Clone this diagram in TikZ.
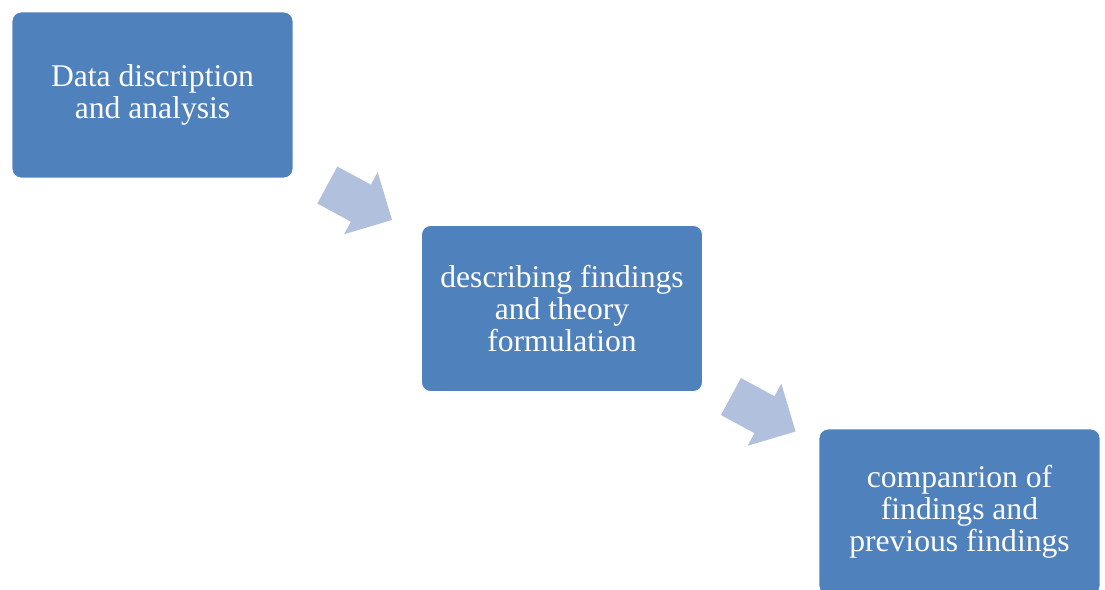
\documentclass[tikz,border=0pt]{standalone}
\usepackage{fontspec}
\setmainfont{Liberation Serif}
\usetikzlibrary{shapes.arrows}
\definecolor{boxblue}{HTML}{4F81BD}
\definecolor{arrowblue}{HTML}{B1C1DD}
\tikzset{
	stagebox/.style={rectangle,rounded corners=0.18cm,fill=boxblue,draw=white,line width=0.5pt,
		minimum width=5.62cm,minimum height=3.32cm,align=center,text=white,
		font=\fontsize{18}{18.2}\selectfont},
	flowarrow/.style={single arrow,fill=arrowblue,draw=none,inner xsep=0pt,inner ysep=0.414cm,
		minimum height=1.47cm,minimum width=1.4cm,single arrow head extend=0.286cm,rotate=-28.4}
}
\begin{document}
\begin{tikzpicture}[x=0.02cm,y=0.02cm]
	\useasboundingbox(0,0) rectangle (1105,589);
	\node[stagebox](data) at (152.5,494){Data discription\\and analysis};
	\node[stagebox](theory) at (562,280.5){describing findings\\and theory\\formulation};
	\node[stagebox](compare) at (959.5,77){companrion of\\findings and\\previous findings};
	\node[flowarrow](a1) at (350.4,391.5){};
	\node[flowarrow](a2) at (754,180){};
\end{tikzpicture}
\end{document}
